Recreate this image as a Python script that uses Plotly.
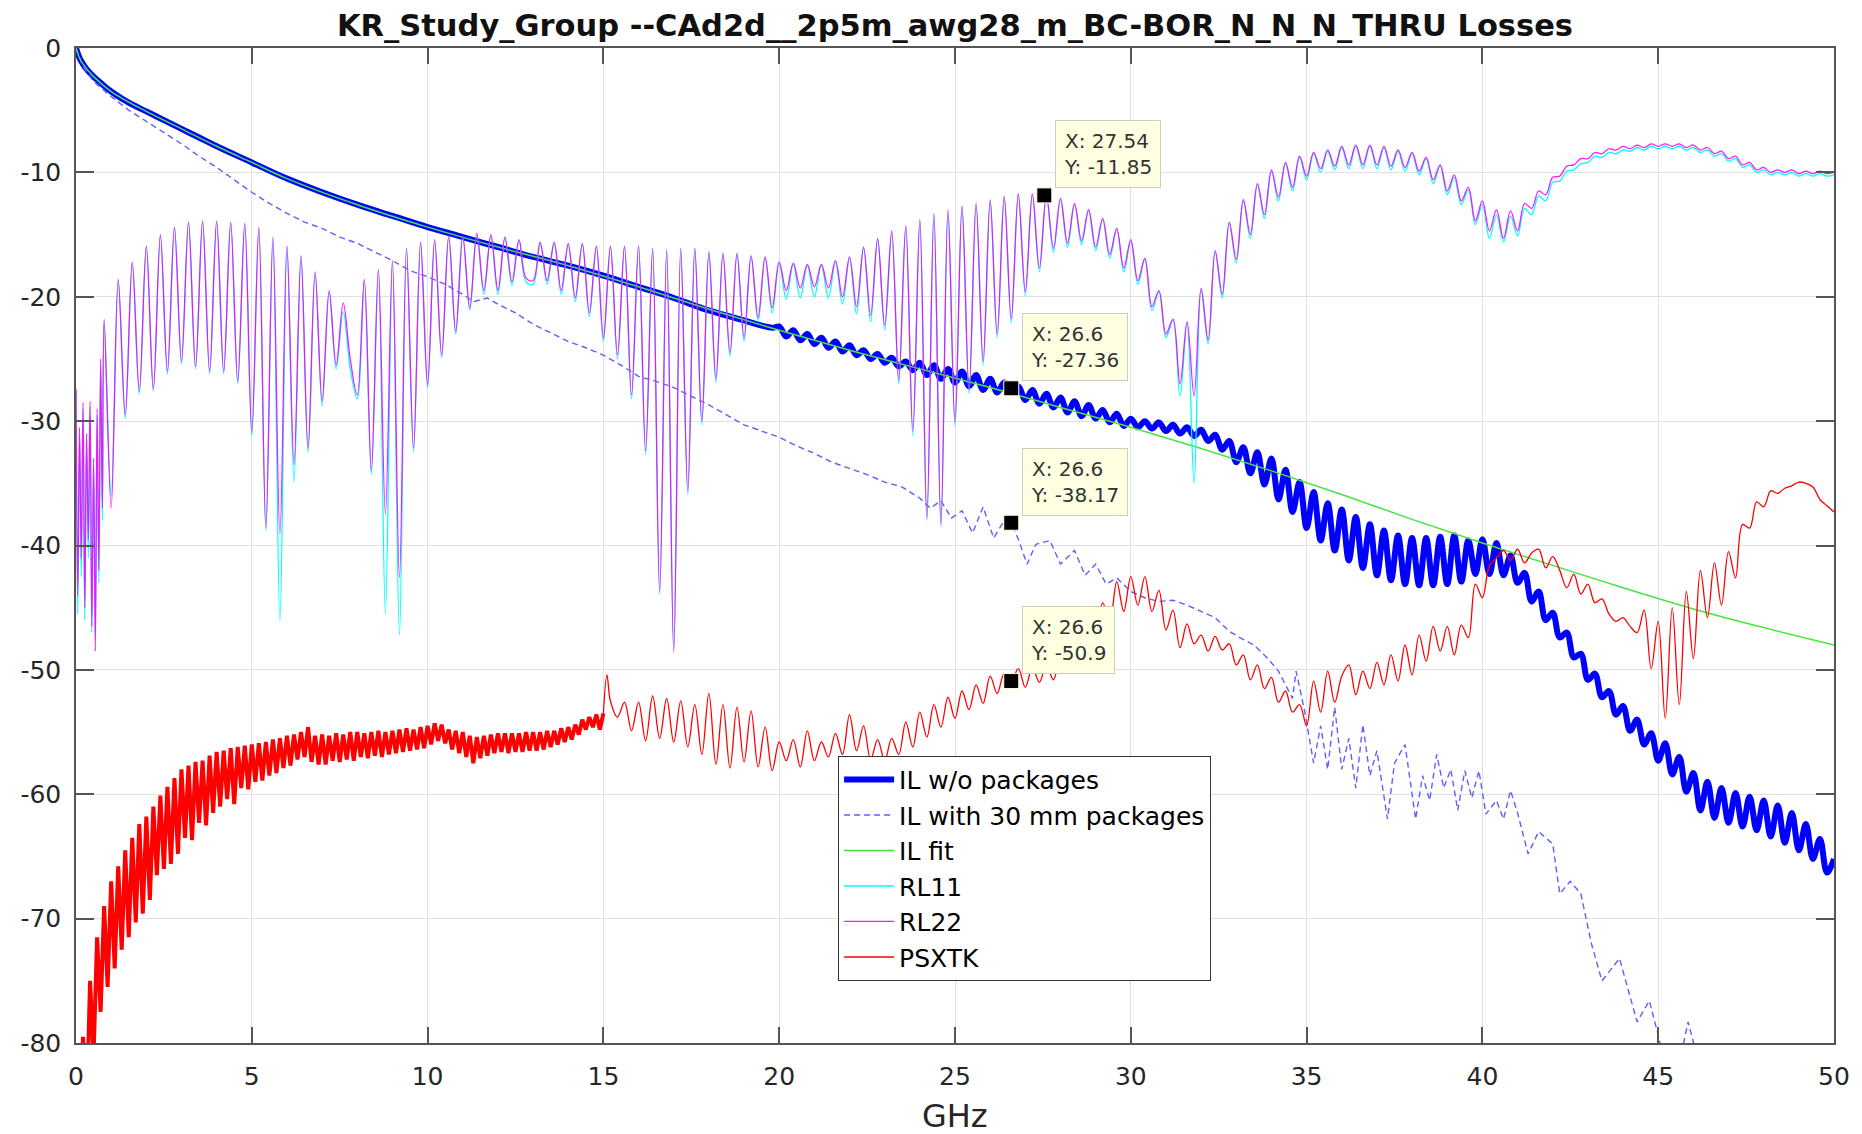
import plotly.graph_objects as go

FONT = "DejaVu Sans"
TITLE = "KR_Study_Group --CAd2d__2p5m_awg28_m_BC-BOR_N_N_N_THRU Losses"
X_LABEL = "GHz"
X_TICKS = [0, 5, 10, 15, 20, 25, 30, 35, 40, 45, 50]
X_TICK_TEXT = ["0", "5", "10", "15", "20", "25", "30", "35", "40", "45", "50"]
Y_TICKS = [0, -10, -20, -30, -40, -50, -60, -70, -80]
Y_TICK_TEXT = ["0", "-10", "-20", "-30", "-40", "-50", "-60", "-70", "-80"]
LEGEND_NAMES = ["IL w/o packages", "IL with 30 mm packages", "IL fit", "RL11", "RL22", "PSXTK"]

# sweep grid, 0.2 GHz steps 0..50
FREQ = [round(0.2 * i, 1) for i in range(251)]
# return-loss sweep: 0.05 GHz steps below 0.8 GHz, then the 0.2 GHz grid
RL_F = [round(0.05 * i, 2) for i in range(16)] + FREQ[4:]

# ---- IL w/o packages (thick blue)
IL_LOW_F = [0, 0.1, 0.2, 0.3, 0.5, 0.7, 1.0, 1.5, 2, 2.5, 3, 3.5, 4, 5, 6, 7, 8, 9, 10,
            11, 12, 13, 14, 15, 16, 17, 18, 19, 19.8]
IL_LOW = [0, -0.8, -1.3, -1.7, -2.3, -2.8, -3.5, -4.4, -5.1, -5.8, -6.5, -7.2, -7.9, -9.2,
          -10.5, -11.6, -12.6, -13.5, -14.4, -15.2, -16.0, -16.8, -17.5, -18.3, -19.2,
          -20.1, -21.1, -21.9, -22.5]
IL_HIGH = [  # 20.0 .. 50.0 on the 0.2 grid
    -22.4, -23.2, -22.7, -23.5, -23.0, -23.8, -23.3, -24.1, -23.6, -24.4,
    -23.9, -24.7, -24.3, -25.0, -24.6, -25.3, -24.9, -25.6, -25.2, -25.9,
    -25.3, -26.3, -25.5, -26.6, -25.8, -26.9, -26.0, -27.2, -26.3, -27.5,
    -26.6, -27.7, -26.9, -27.4, -27.2, -28.3, -27.5, -28.6, -27.8, -28.9,
    -28.1, -29.3, -28.4, -29.6, -28.7, -29.8, -29.1, -30.1, -29.4, -30.4,
    -29.8, -30.5, -30.0, -30.6, -30.1, -30.8, -30.3, -31.0, -30.5, -31.2,
    -30.7, -31.6, -31.1, -32.3, -31.6, -33.3, -32.1, -34.2, -32.5, -35.1,
    -33.0, -36.3, -33.9, -37.3, -34.9, -38.6, -35.7, -39.6, -36.6, -40.4,
    -37.1, -41.2, -37.7, -41.8, -38.3, -42.4, -38.8, -42.8, -39.2, -43.1,
    -39.4, -43.2, -39.4, -43.2, -39.3, -43.1, -39.2, -42.9, -39.6, -42.3,
    -39.5, -42.3, -39.8, -42.4, -40.8, -43.0, -42.2, -44.5, -43.7, -46.0,
    -45.4, -47.4, -47.0, -49.0, -48.7, -50.8, -50.3, -52.2, -51.7, -53.6,
    -52.9, -54.9, -54.0, -56.0, -55.1, -57.3, -55.9, -58.4, -57.0, -59.8,
    -58.3, -61.3, -59.0, -61.9, -59.5, -62.3, -59.9, -62.6, -60.2, -62.9,
    -60.5, -63.4, -60.9, -63.9, -61.5, -64.5, -62.4, -65.2, -63.6, -66.3,
    -65.2,
]

# ---- IL with 30 mm packages (dashed)
PKG_F = [0, 0.2, 0.5, 1.0, 1.5, 2.0, 2.5, 3.0, 3.5, 4.0,
         4.5, 5.0, 5.5, 6.0, 6.5, 7.0, 7.5, 8.0, 8.5, 9.0,
         9.5, 10.0, 10.5, 11.0, 11.3, 11.7, 12.0, 12.5, 13.0, 13.5,
         14.0, 14.5, 15.0, 15.5, 16.0, 16.5, 17.0, 17.5, 18.0, 18.5,
         19.0, 19.5, 20.0, 20.5, 21.0, 21.5, 22.0, 22.5, 23.0, 23.5,
         24.0, 24.3, 24.6, 24.9, 25.2, 25.5, 25.8, 26.1, 26.4, 26.6,
         26.8, 27.05, 27.3, 27.7, 28.0, 28.4, 28.7, 29.0, 29.3, 29.6,
         30.0, 30.4, 30.8, 31.2, 31.6, 32.0, 32.4, 32.8, 33.1, 33.5,
         33.9, 34.2, 34.4, 34.6, 34.7, 34.95, 35.2, 35.4, 35.6, 35.8,
         36.0, 36.2, 36.4, 36.6, 36.8, 37.0, 37.3, 37.5, 37.8, 38.1,
         38.3, 38.5, 38.7, 38.9, 39.1, 39.3, 39.5, 39.7, 39.9, 40.1,
         40.4, 40.6, 40.8, 41.0, 41.3, 41.6, 42.0, 42.2, 42.5, 42.8,
         43.1, 43.4, 43.9, 44.4, 44.75, 45.1, 45.5, 45.85, 46.1, 46.5]
PKG = [0, -1.5, -2.7, -3.9, -5.0, -5.9, -6.8, -7.7, -8.7, -9.6,
       -10.6, -11.6, -12.5, -13.3, -14.0, -14.5, -15.2, -15.7, -16.4, -17.1,
       -17.9, -18.4, -19.0, -19.8, -20.4, -20.1, -20.6, -21.3, -22.2, -22.9,
       -23.6, -24.1, -24.7, -25.5, -26.4, -26.8, -27.3, -28.0, -28.7, -29.5,
       -30.3, -30.8, -31.3, -32.0, -32.6, -33.3, -33.8, -34.3, -34.9, -35.3,
       -36.2, -37.0, -36.4, -37.8, -37.2, -39.0, -36.9, -39.4, -38.0, -38.17,
       -39.5, -41.5, -39.9, -39.6, -41.5, -40.4, -42.4, -41.5, -43.1, -42.6,
       -43.7, -44.2, -44.5, -44.4, -44.8, -45.3, -45.8, -46.9, -47.4, -48.0,
       -49.1, -50.1, -51.2, -52.3, -50.1, -53.4, -57.5, -54.5, -58.0, -53.0,
       -58.0, -55.5, -59.5, -54.4, -58.5, -56.5, -62.0, -57.5, -56.0, -62.0,
       -58.5, -60.5, -56.8, -59.5, -58.0, -61.3, -58.1, -60.3, -58.1, -61.6,
       -60.5, -62.0, -59.7, -61.5, -64.8, -63.0, -64.0, -68.0, -67.0, -68.0,
       -72.0, -75.0, -73.2, -78.3, -76.6, -80.5, -83.0, -78.3, -81.0, -86.0]

# ---- IL fit (green)
FIT_F = [0, 0.1, 0.2, 0.5, 1, 2, 3, 4, 5, 6, 8, 10, 12, 14, 16, 18, 20, 22, 24, 26,
         28, 30, 32, 34, 36, 38, 40, 42, 44, 46, 48, 50]
FIT = [0, -0.8, -1.3, -2.3, -3.5, -5.1, -6.5, -7.9, -9.2, -10.5, -12.6, -14.4, -16.0,
       -17.5, -19.2, -21.0, -22.7, -24.3, -25.8, -27.3, -28.9, -30.5, -32.2, -34.0,
       -35.9, -37.9, -39.8, -41.6, -43.4, -45.1, -46.6, -48.0]

# ---- RL11 (cyan), on RL_F
RL11 = [
    -27.6, -45.5, -31.0, -42.5, -29.0, -46.0, -31.5, -41.0, -28.8, -47.0,
    -33.5, -47.0, -29.5, -43.0, -25.5, -38.0,
    -22.0, -36.0, -18.7, -29.8, -17.3, -27.8,
    -16.0, -27.6, -15.1, -26.2, -14.5, -25.4, -14.1, -25.8, -14.0, -26.2,
    -14.0, -26.2, -14.1, -27.0, -14.2, -31.2, -14.5, -38.8, -15.3, -46.1,
    -16.0, -34.9, -16.8, -32.5, -18.1, -28.8, -19.6, -25.8, -21.2, -25.8,
    -28.2, -18.7, -34.3, -17.9, -45.5, -17.2, -47.2, -16.2, -32.5, -15.7,
    -27.3, -15.5, -24.9, -15.2, -23.0, -15.2, -21.1, -15.0, -19.8, -15.1,
    -19.8, -15.3, -19.1, -15.5, -18.8, -19.0, -15.7, -19.0, -15.7, -19.8,
    -15.8, -20.4, -15.8, -21.6, -16.0, -23.6, -16.0, -25.0, -16.0, -28.2,
    -16.0, -32.7, -16.2, -43.9, -16.3, -48.3, -16.2, -35.9, -16.2, -30.3,
    -16.5, -26.9, -16.6, -24.8, -16.6, -23.6, -16.8, -22.0, -16.9, -21.3,
    -17.3, -20.2, -17.4, -20.1, -17.5, -20.0, -17.5, -20.1, -17.2, -20.6,
    -16.9, -21.4, -16.1, -22.0, -15.4, -22.7, -14.8, -27.0, -14.4, -31.2,
    -13.9, -38.0, -13.4, -38.5, -13.1, -30.4, -12.8, -27.8, -12.6, -25.5,
    -12.3, -23.3, -12.0, -22.1, -11.8, -19.9, -11.8, -18.0, -11.9, -16.4,
    -12.2, -16.0, -12.6, -15.8, -13.1, -16.3, -13.8, -16.9, -14.6, -18.0,
    -15.5, -19.0, -17.0, -21.1, -19.6, -23.3, -21.9, -28.0, -22.1, -35.0,
    -19.4, -23.8, -16.4, -20.1, -14.1, -17.3, -12.3, -15.3, -11.0, -13.7,
    -9.9, -12.3, -9.3, -11.5, -8.8, -10.6, -8.5, -10.0, -8.3, -9.8,
    -8.0, -9.7, -7.9, -9.7, -7.9, -9.7, -8.0, -9.8, -8.3, -9.9,
    -8.5, -10.2, -8.9, -10.9, -9.5, -11.8, -10.4, -12.6, -11.4, -14.2,
    -12.6, -15.3, -13.4, -15.6, -13.5, -15.1, -12.9, -13.4, -11.9, -12.3,
    -10.8, -10.7, -9.9, -9.8, -9.3, -9.2, -8.7, -8.8, -8.4, -8.5,
    -8.2, -8.3, -8.0, -8.2, -7.9, -8.1, -7.9, -8.1, -7.9, -8.2,
    -8.0, -8.4, -8.2, -8.7, -8.5, -9.1, -8.9, -9.6, -9.4, -10.0,
    -9.8, -10.2, -10.0, -10.2, -10.0, -10.3, -10.1, -10.3, -10.1, -10.3,
    -10.2,
]

# ---- RL22 (magenta), on RL_F
RL22 = [
    -27.4, -44.0, -30.5, -41.0, -28.5, -45.0, -31.0, -39.5, -28.4, -46.5,
    -33.0, -48.5, -29.0, -42.0, -25.0, -37.0,
    -21.8, -37.0, -18.6, -29.5, -17.2, -27.6,
    -15.9, -27.4, -15.0, -26.0, -14.4, -25.2, -14.0, -25.6, -13.9, -26.0,
    -13.9, -26.0, -14.0, -26.8, -14.1, -30.9, -14.4, -38.6, -15.2, -39.1,
    -15.9, -33.5, -16.7, -32.2, -18.0, -28.4, -19.5, -25.5, -20.5, -25.0,
    -27.9, -18.6, -34.0, -17.8, -37.5, -17.1, -42.6, -16.1, -32.2, -15.6,
    -27.1, -15.4, -24.7, -15.1, -22.8, -15.1, -20.9, -14.9, -19.5, -15.0,
    -19.5, -15.2, -18.8, -15.4, -18.5, -18.7, -15.6, -18.7, -15.6, -19.5,
    -15.7, -20.1, -15.7, -21.3, -15.9, -23.3, -15.9, -24.7, -15.9, -27.9,
    -15.9, -32.4, -16.1, -43.7, -16.2, -48.6, -16.1, -35.6, -16.1, -30.0,
    -16.4, -26.6, -16.5, -24.5, -16.5, -23.3, -16.7, -21.7, -16.8, -20.9,
    -17.2, -19.5, -17.3, -19.3, -17.4, -19.2, -17.4, -19.3, -17.1, -20.0,
    -16.8, -20.8, -16.0, -21.5, -15.3, -22.3, -14.7, -26.7, -14.3, -30.8,
    -13.8, -37.8, -13.3, -38.3, -13.0, -30.1, -12.7, -27.5, -12.5, -25.2,
    -12.2, -23.0, -11.9, -21.8, -11.7, -19.6, -11.7, -17.7, -11.85, -16.1,
    -12.1, -15.7, -12.5, -15.5, -13.0, -16.0, -13.7, -16.6, -14.5, -17.7,
    -15.4, -18.7, -16.9, -20.8, -19.5, -23.0, -21.8, -27.0, -22.0, -28.0,
    -19.3, -23.5, -16.3, -19.8, -14.0, -17.0, -12.2, -15.0, -10.9, -13.4,
    -9.8, -12.0, -9.2, -11.2, -8.7, -10.3, -8.4, -9.7, -8.2, -9.5,
    -7.9, -9.4, -7.8, -9.4, -7.8, -9.4, -7.9, -9.5, -8.2, -9.6,
    -8.4, -9.9, -8.8, -10.6, -9.4, -11.5, -10.2, -12.3, -11.2, -13.9,
    -12.3, -14.7, -13.0, -15.3, -13.1, -14.7, -12.5, -12.9, -11.5, -11.8,
    -10.4, -10.3, -9.5, -9.4, -8.9, -8.9, -8.4, -8.5, -8.1, -8.2,
    -7.9, -8.1, -7.8, -8.0, -7.7, -7.9, -7.7, -7.9, -7.7, -8.0,
    -7.8, -8.2, -8.0, -8.5, -8.3, -8.9, -8.7, -9.4, -9.2, -9.8,
    -9.6, -10.0, -9.8, -10.0, -9.8, -10.1, -9.9, -10.1, -9.9, -10.1,
    -10.0,
]

# ---- PSXTK (red): 0..15 GHz at 0.1 GHz, then 15.1, then 15.2..50 at 0.2 GHz
PSX_F = ([round(0.1 * i, 1) for i in range(151)] + [15.1]
         + [round(15.2 + 0.2 * i, 1) for i in range(175)])
PSX_LOW = [
    -100, -88, -79.5, -86, -75, -81, -71.5, -77.5, -69, -75.5,
    -67, -74, -65.8, -72.5, -64.5, -71.5, -63.5, -70.3, -62.4, -69.6,
    -61.8, -68.5, -61.0, -66.5, -60.1, -66.0, -59.4, -65.6, -58.7, -64.8,
    -58.0, -63.5, -57.7, -63.7, -57.4, -62.3, -57.3, -62.5, -56.9, -61.5,
    -56.6, -61.0, -56.5, -60.4, -56.3, -60.8, -56.2, -59.5, -56.1, -59.6,
    -56.0, -59.0, -55.9, -58.9, -55.8, -58.5, -55.6, -58.3, -55.5, -57.9,
    -55.3, -57.7, -55.2, -57.2, -55.0, -57.0, -54.6, -57.4, -55.3, -57.6,
    -55.2, -57.6, -55.3, -57.3, -55.1, -57.4, -55.2, -57.2, -55.0, -57.3,
    -55.0, -57.0, -55.1, -57.1, -55.0, -56.9, -54.9, -57.0, -55.0, -56.8,
    -54.9, -56.7, -54.8, -56.6, -54.7, -56.5, -54.8, -56.4, -54.6, -56.3,
    -54.5, -56.0, -54.3, -55.7, -54.4, -55.9, -54.8, -56.4, -54.9, -56.7,
    -55.0, -57.0, -55.3, -57.5, -55.4, -57.1, -55.3, -56.9, -55.2, -56.7,
    -55.1, -56.6, -55.1, -56.7, -55.1, -56.6, -55.1, -56.6, -55.0, -56.5,
    -55.0, -56.5, -55.0, -56.4, -54.9, -56.2, -54.9, -56.0, -54.7, -55.8,
    -54.6, -55.6, -54.4, -55.2, -54.0, -54.8, -53.8, -54.6, -53.6, -54.8,
    -53.5,
]
PSX_SPIKE = [-50.4]
PSX_HIGH = [
    -52.5, -53.8, -52.6, -54.9, -52.6, -55.7, -52.1, -55.5, -52.3, -55.8,
    -52.5, -56.2, -52.8, -56.8, -51.9, -57.6, -52.8, -57.9, -53.0, -57.4,
    -53.3, -57.8, -54.6, -58.1, -55.8, -57.3, -55.6, -57.8, -54.9, -57.3,
    -55.8, -57.0, -55.1, -56.8, -53.6, -56.5, -54.5, -57.2, -55.6, -57.3,
    -55.5, -56.8, -54.2, -56.2, -53.4, -55.4, -52.8, -54.6, -52.2, -53.9,
    -51.7, -53.2, -51.2, -52.7, -50.5, -51.9, -50.3, -50.9, -49.9, -51.4,
    -49.8, -51.0, -49.6, -50.8, -49.0, -50.2, -48.0, -49.3, -46.8, -48.0,
    -44.6, -46.2, -42.9, -45.3, -42.5, -44.8, -42.5, -45.3, -43.6, -46.8,
    -45.2, -48.2, -46.3, -47.9, -47.2, -48.5, -47.3, -48.4, -47.9, -49.6,
    -48.8, -50.8, -49.6, -51.5, -50.6, -52.6, -51.7, -53.4, -52.8, -54.5,
    -50.9, -53.4, -50.1, -52.6, -50.5, -49.6, -52.0, -50.1, -51.5, -49.4,
    -51.2, -48.8, -50.9, -48.0, -50.4, -47.2, -49.3, -46.5, -48.5, -46.5,
    -48.8, -46.4, -47.4, -43.1, -44.2, -41.6, -41.0, -40.4, -41.2, -40.3,
    -41.4, -40.6, -40.3, -41.8, -40.9, -42.0, -43.4, -42.3, -43.9, -43.1,
    -44.6, -44.3, -45.5, -46.1, -45.8, -46.5, -47.0, -45.2, -49.9, -46.1,
    -53.9, -45.0, -52.8, -43.7, -49.1, -42.0, -45.8, -41.4, -44.8, -40.5,
    -42.6, -38.3, -38.6, -36.5, -36.9, -35.6, -35.8, -35.4, -35.2, -34.9,
    -35.0, -35.3, -36.3, -36.8, -37.3,
]

# ---- data tips
DT_X = [27.54, 26.6, 26.6, 26.6]
DT_Y = [-11.85, -27.36, -38.17, -50.9]

IL_F = IL_LOW_F + FREQ[100:]
IL = IL_LOW + IL_HIGH
PSX = PSX_LOW + PSX_SPIKE + PSX_HIGH
N_DENSE = len(PSX_LOW)  # dense 0..15 GHz part of PSXTK

fig = go.Figure()
fig.add_trace(go.Scatter(x=IL_F, y=IL, mode="lines", name=LEGEND_NAMES[0],
                         line=dict(color="rgb(0,0,255)", width=6, shape="spline",
                                   smoothing=1.0, simplify=False)))
fig.add_trace(go.Scatter(x=PKG_F, y=PKG, mode="lines", name=LEGEND_NAMES[1],
                         line=dict(color="rgb(95,95,255)", width=1.4, dash="6px,4px",
                                   simplify=False)))
fig.add_trace(go.Scatter(x=FIT_F, y=FIT, mode="lines", name=LEGEND_NAMES[2],
                         line=dict(color="rgb(70,228,70)", width=1.5, shape="spline")))
fig.add_trace(go.Scatter(x=RL_F, y=RL11, mode="lines", name=LEGEND_NAMES[3],
                         line=dict(color="rgb(0,255,255)", width=1.3, shape="spline",
                                   smoothing=1.0, simplify=False)))
fig.add_trace(go.Scatter(x=RL_F, y=RL22, mode="lines", name=LEGEND_NAMES[4], opacity=0.9,
                         line=dict(color="rgb(255,0,255)", width=1.25, shape="spline",
                                   smoothing=1.0, simplify=False)))
fig.add_trace(go.Scatter(x=PSX_F[:N_DENSE], y=PSX[:N_DENSE], mode="lines",
                         name=LEGEND_NAMES[5], legendgroup="psx", showlegend=False,
                         line=dict(color="rgb(255,0,0)", width=4.0, simplify=False)))
fig.add_trace(go.Scatter(x=PSX_F[N_DENSE - 1:], y=PSX[N_DENSE - 1:], mode="lines",
                         name=LEGEND_NAMES[5], legendgroup="psx",
                         line=dict(color="rgb(255,0,0)", width=1.3, shape="spline",
                                   smoothing=1.0, simplify=False)))
fig.add_trace(go.Scatter(x=DT_X, y=DT_Y, mode="markers", showlegend=False,
                         marker=dict(symbol="square", size=15, color="black",
                                     line=dict(width=1, color="rgb(255,255,225)"))))

for xv, yv in zip(DT_X, DT_Y):
    fig.add_annotation(x=xv, y=yv, xref="x", yref="y", showarrow=False,
                       text=f"X: {xv}<br>Y: {yv}", align="left",
                       xanchor="left", yanchor="bottom", xshift=11, yshift=7,
                       bgcolor="rgb(255,255,225)", bordercolor="rgb(205,205,185)",
                       borderwidth=1, borderpad=8,
                       font=dict(family=FONT, size=20, color="#333333"))

fig.add_annotation(x=0.5, y=-0.0734, xref="paper", yref="paper", showarrow=False,
                   text=X_LABEL, xanchor="center", yanchor="middle",
                   font=dict(family=FONT, size=32, color="#262626"))

axis_common = dict(showline=True, linecolor="#555555", linewidth=1.5, mirror="ticks",
                   ticks="inside", tickcolor="#555555", tickwidth=1.5,
                   showgrid=True, gridcolor="rgb(224,224,224)", gridwidth=1.2,
                   zeroline=False, tickfont=dict(family=FONT, size=25, color="#262626"))

fig.update_xaxes(range=[0, 50], tickvals=X_TICKS, ticktext=X_TICK_TEXT, ticklen=16,
                 ticklabelstandoff=10, **axis_common)
fig.update_yaxes(range=[-80, 0], tickvals=Y_TICKS, ticktext=Y_TICK_TEXT, ticklen=18,
                 ticklabelstandoff=8, **axis_common)

# the page body has an 8 px margin, so the figure is offset by 8 px: compensate
fig.update_layout(
    width=1854, height=1126, autosize=False,
    margin=dict(l=66, r=21, t=40, b=91),
    paper_bgcolor="white", plot_bgcolor="white",
    title=dict(text="<b>" + TITLE + "</b>", x=0.5, xref="paper", xanchor="center",
               y=1 - 17.5 / 1126, yref="container", yanchor="middle",
               font=dict(family=FONT, size=30.5, color="#111111")),
    legend=dict(x=0.4335, y=0.2887, xanchor="left", yanchor="top",
                bgcolor="white", bordercolor="#333333", borderwidth=1,
                font=dict(family=FONT, size=25, color="#000000"),
                itemwidth=50, tracegroupgap=0),
    showlegend=True,
)

fig.write_html("out.html")
